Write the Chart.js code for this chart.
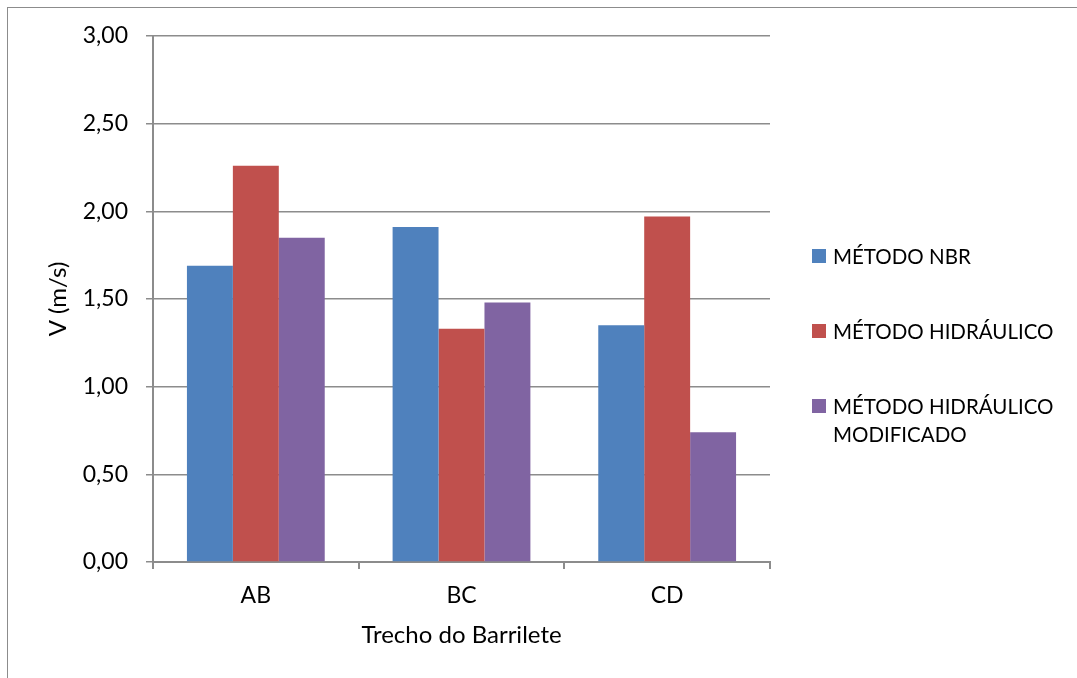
<!DOCTYPE html>
<html>
<head>
<meta charset="utf-8">
<script src="https://cdn.jsdelivr.net/npm/chart.js@4.4.0/dist/chart.umd.min.js"></script>
<style>
  html, body { margin: 0; padding: 0; background: #fff; overflow: hidden; }
  #wrap { position: relative; width: 1077px; height: 678px; }
  #frame { position: absolute; left: 7px; top: 7px; width: 1200px; height: 800px; border: 1px solid #8c8c8c; }
  canvas { position: absolute; left: 0; top: 0; }
</style>
</head>
<body>
<div id="wrap">
  <div id="frame"></div>
  <canvas id="chart" width="1077" height="678"></canvas>
</div>
<script>
// chart data
var trechos = ['AB', 'BC', 'CD'];
var metodoNBR = [1.69, 1.91, 1.35];
var metodoHidraulico = [2.26, 1.33, 1.97];
var metodoModificado = [1.85, 1.48, 0.74];
var seriesNames = ['MÉTODO NBR', 'MÉTODO HIDRÁULICO', 'MÉTODO HIDRÁULICO\nMODIFICADO'];
var seriesColors = ['#4F81BD', '#C0504D', '#8064A2'];

var fontFamily = 'Lato, "Open Sans", sans-serif';

// legend on the right, drawn by hand so the long label can wrap
var sideLegend = {
    id: 'sideLegend',
    afterDraw: function(chart) {
        var ctx = chart.ctx;
        ctx.save();
        ctx.font = '20.5px ' + fontFamily;
        ctx.textBaseline = 'middle';
        ctx.textAlign = 'left';
        var y = 256;
        chart.data.datasets.forEach(function(ds) {
            ctx.fillStyle = ds.backgroundColor;
            ctx.fillRect(812, y - 7, 14, 14);
            ctx.fillStyle = '#000';
            var lines = ds.label.split('\n');
            lines.forEach(function(line, i) {
                ctx.fillText(line, 833, y + 1 + i * 28);
            });
            y += 75;
        });
        ctx.restore();
    }
};

new Chart(document.getElementById('chart').getContext('2d'), {
    type: 'bar',
    data: {
        labels: trechos,
        datasets: [
            { label: seriesNames[0], data: metodoNBR, backgroundColor: seriesColors[0] },
            { label: seriesNames[1], data: metodoHidraulico, backgroundColor: seriesColors[1] },
            { label: seriesNames[2], data: metodoModificado, backgroundColor: seriesColors[2] }
        ]
    },
    options: {
        responsive: false,
        animation: false,
        layout: { padding: { left: 0, top: 36, right: 307, bottom: 0 } },
        datasets: {
            bar: { categoryPercentage: 0.67, barPercentage: 1.0, borderWidth: 0 }
        },
        plugins: {
            legend: { display: false },
            tooltip: { enabled: false }
        },
        scales: {
            x: {
                grid: { drawOnChartArea: false, drawTicks: true, tickLength: 7, color: '#8c8c8c', lineWidth: 2 },
                border: { color: '#8c8c8c', width: 2 },
                ticks: { color: '#000', font: { family: fontFamily, size: 23 }, padding: 13 },
                title: { display: true, text: 'Trecho do Barrilete', color: '#000', font: { family: fontFamily, size: 24 }, padding: { top: 0, bottom: 28 } },
                afterFit: function(scale) { scale.height = 116; }
            },
            y: {
                min: 0,
                max: 3,
                grid: { color: '#8c8c8c', lineWidth: 1.5, tickLength: 7 },
                border: { color: '#8c8c8c', width: 2 },
                ticks: {
                    stepSize: 0.5,
                    color: '#000',
                    font: { family: fontFamily, size: 23 },
                    padding: 18,
                    callback: function(v) { return v.toFixed(2).replace('.', ','); }
                },
                title: { display: true, text: 'V (m/s)', color: '#000', font: { family: fontFamily, size: 24 }, padding: { top: 44 } },
                afterFit: function(scale) { scale.width = 153; }
            }
        }
    },
    plugins: [sideLegend]
});
</script>
</body>
</html>
